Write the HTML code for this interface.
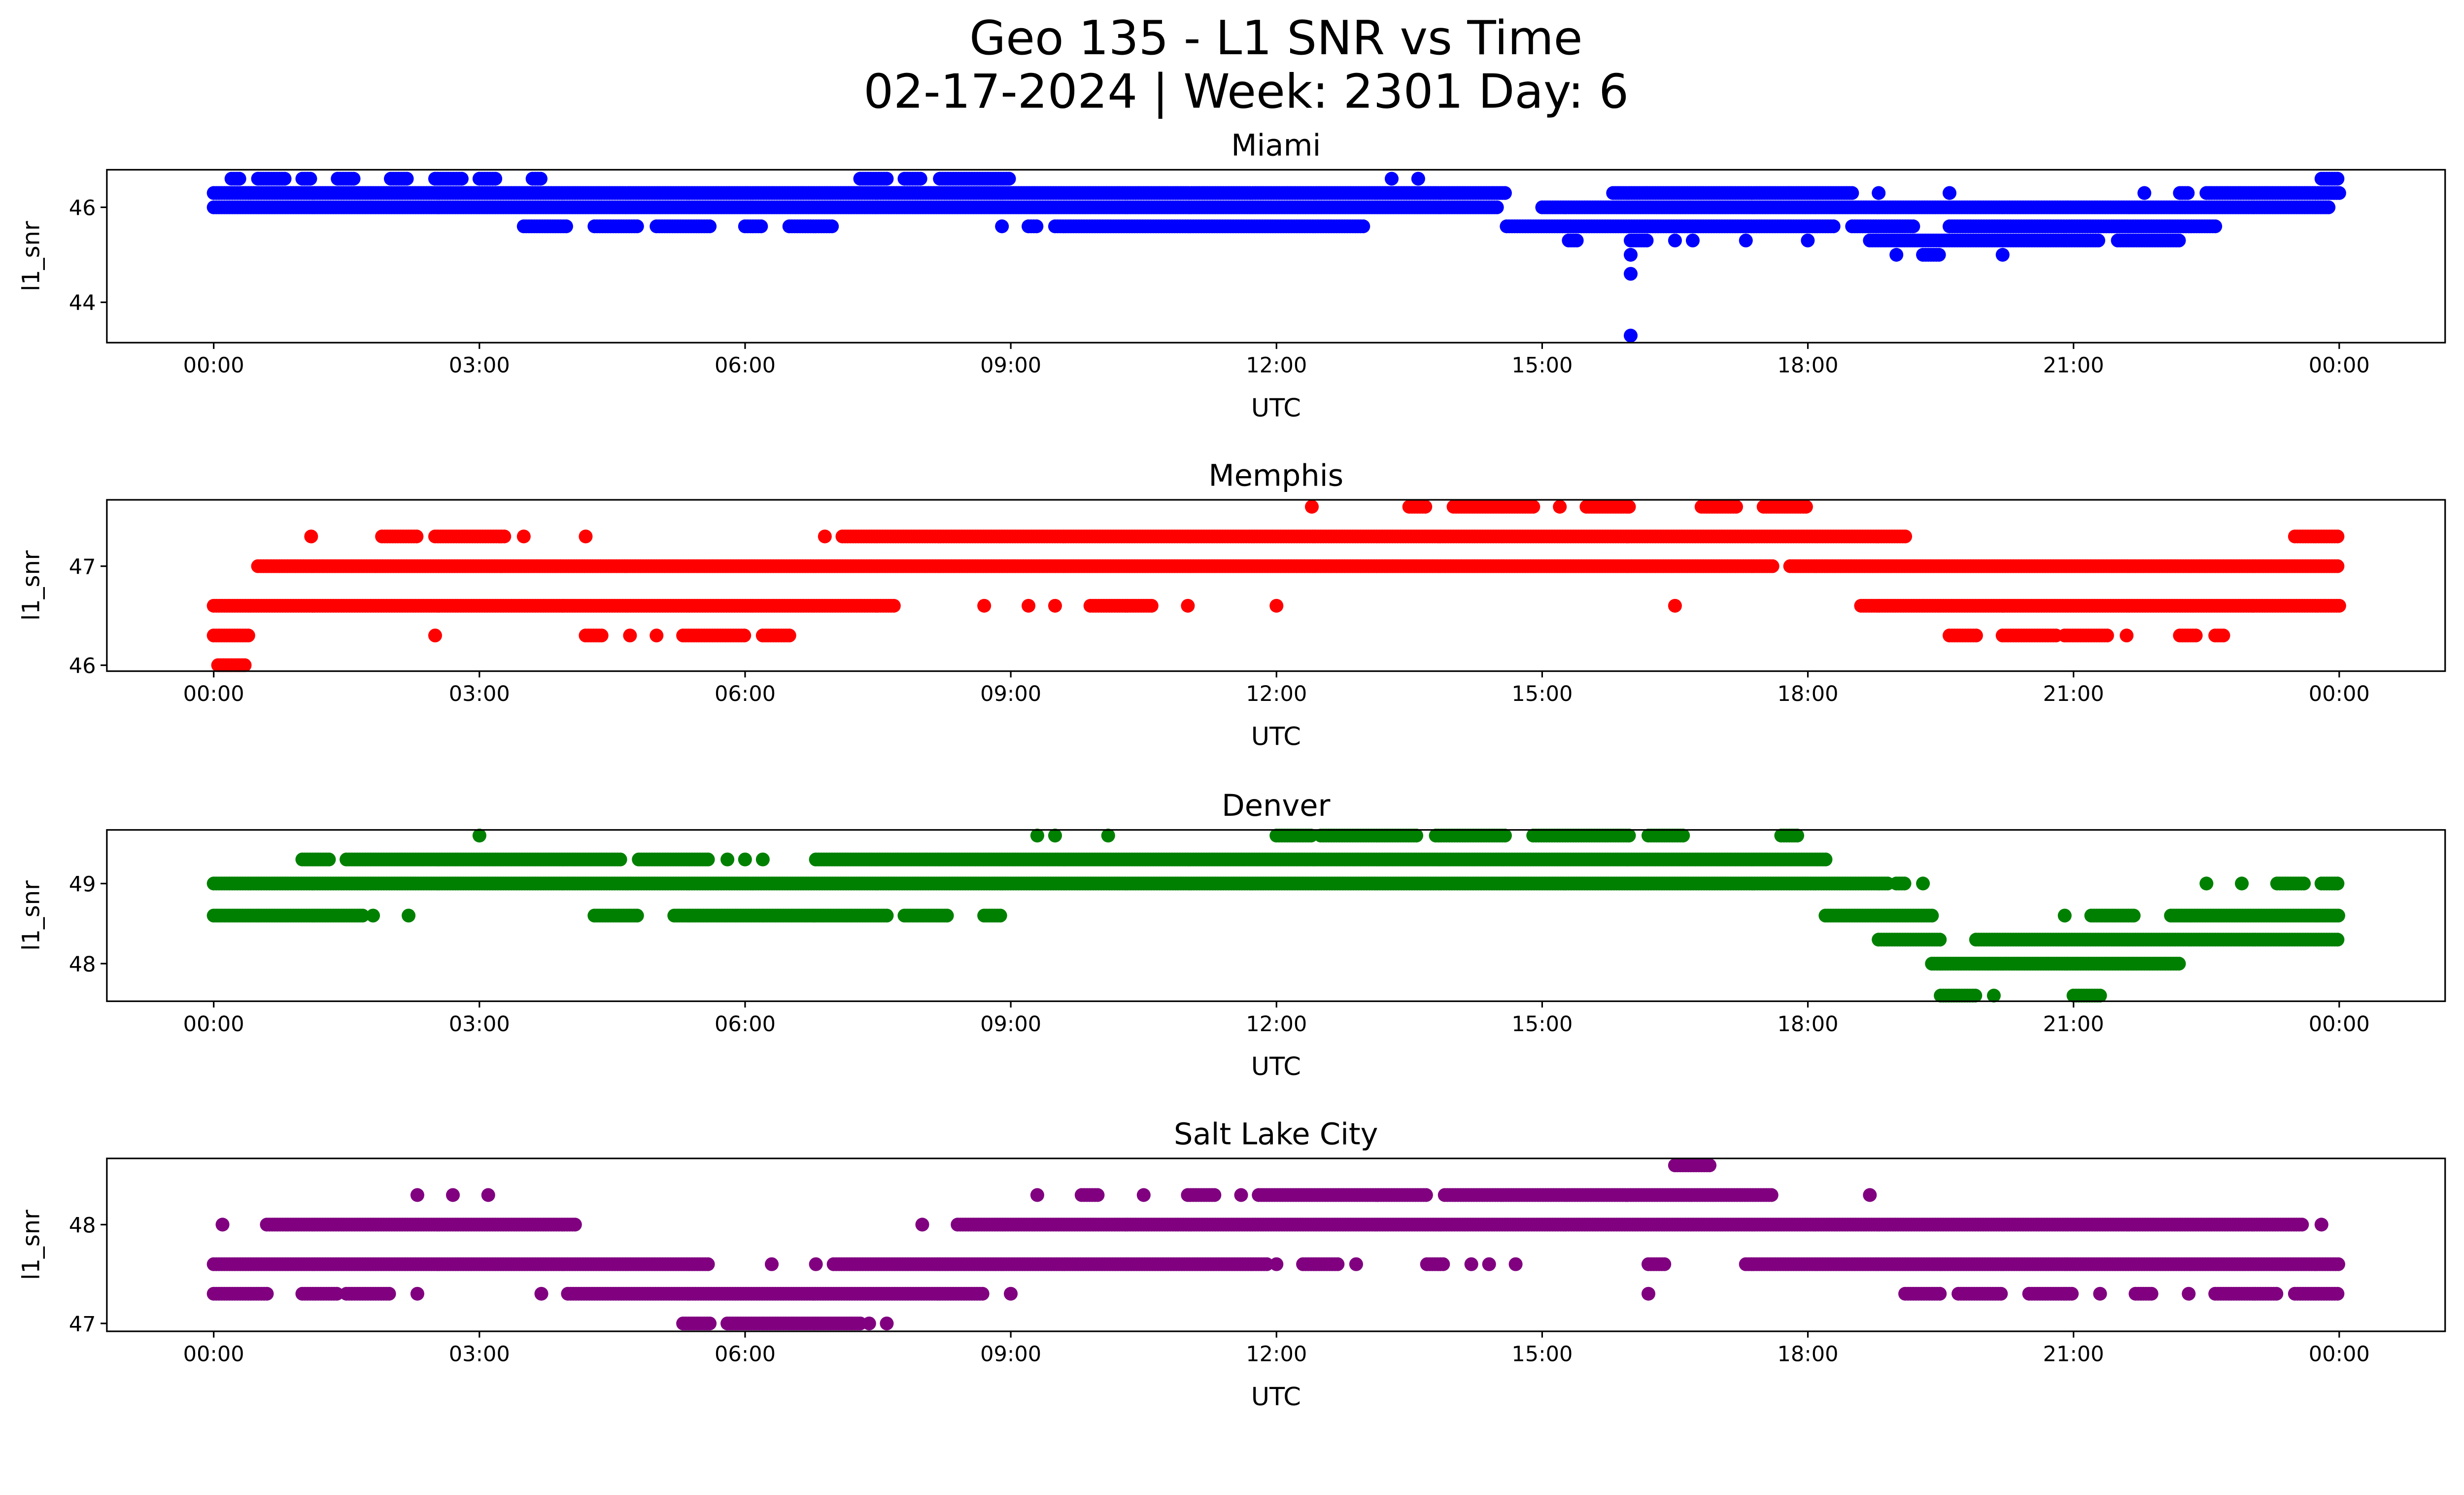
<!DOCTYPE html>
<html><head><meta charset="utf-8"><style>
html,body{margin:0;padding:0;background:#fff;overflow:hidden}
svg{display:block;width:100vw;height:calc(100vw * 3033 / 5226)}
text{font-family:"DejaVu Sans","Liberation Sans",sans-serif;fill:#000}
</style></head><body>
<svg id="chart" viewBox="0 0 1568 910" preserveAspectRatio="none" xmlns="http://www.w3.org/2000/svg">
<g id="root">
<text x="812" y="34.5" font-size="30" text-anchor="middle">Geo 135 - L1 SNR vs Time</text>
<text x="793" y="68.5" font-size="30" text-anchor="middle">02-17-2024 | Week: 2301 Day: 6</text>
</g>
</svg>
<script>
// Data: runs of observations per SNR level, [startHour, endHour]
const panelNames = ["Miami","Memphis","Denver","Salt Lake City"];
const panelColors = ["#0000ff","#ff0000","#008000","#800080"];
const xTickLabels = ["00:00","03:00","06:00","09:00","12:00","15:00","18:00","21:00","00:00"];
const xTickHours = [0,3,6,9,12,15,18,21,24];
const miamiTicks = [44,46];
const memphisTicks = [46,47];
const denverTicks = [48,49];
const slcTicks = [47,48];
const miamiRuns = {
  "46.6":[[0.2,0.3],[0.5,0.8],[1.0,1.1],[1.4,1.6],[2.0,2.2],[2.5,2.8],[3.0,3.2],[3.6,3.7],[7.3,7.6],[7.8,8.0],[8.2,9.0],[13.3,13.3],[13.6,13.6],[23.8,24]],
  "46.3":[[0,14.6],[15.8,18.5],[18.8,18.8],[19.6,19.6],[21.8,21.8],[22.2,22.3],[22.5,24]],
  "46.0":[[0,14.5],[15.0,23.9]],
  "45.6":[[3.5,4.0],[4.3,4.8],[5.0,5.6],[6.0,6.2],[6.5,7.0],[8.9,8.9],[9.2,9.3],[9.5,13.0],[14.6,18.3],[18.5,19.2],[19.6,22.6]],
  "45.3":[[15.3,15.4],[16.0,16.2],[16.5,16.5],[16.7,16.7],[17.3,17.3],[18.0,18.0],[18.7,21.3],[21.5,22.2]],
  "45.0":[[16.0,16.0],[19.0,19.0],[19.3,19.5],[20.2,20.2]],
  "44.6":[[16.0,16.0]],
  "43.3":[[16.0,16.0]]
};
const memphisRuns = {
  "47.6":[[12.4,12.4],[13.5,13.7],[14.0,14.9],[15.2,15.2],[15.5,16.0],[16.8,17.2],[17.5,18.0]],
  "47.3":[[1.1,1.1],[1.9,2.3],[2.5,3.3],[3.5,3.5],[4.2,4.2],[6.9,6.9],[7.1,19.1],[23.5,24]],
  "47.0":[[0.5,17.6],[17.8,24]],
  "46.6":[[0,7.7],[8.7,8.7],[9.2,9.2],[9.5,9.5],[9.9,10.6],[11.0,11.0],[12.0,12.0],[16.5,16.5],[18.6,24]],
  "46.3":[[0,0.4],[2.5,2.5],[4.2,4.4],[4.7,4.7],[5.0,5.0],[5.3,6.0],[6.2,6.5],[19.6,19.9],[20.2,20.8],[20.9,21.4],[21.6,21.6],[22.2,22.4],[22.6,22.7]],
  "46.0":[[0.05,0.35]]
};
const denverRuns = {
  "49.6":[[3.0,3.0],[9.3,9.3],[9.5,9.5],[10.1,10.1],[12.0,12.4],[12.5,13.6],[13.8,14.6],[14.9,16.0],[16.2,16.6],[17.7,17.9]],
  "49.3":[[1.0,1.3],[1.5,4.6],[4.8,5.6],[5.8,5.8],[6.0,6.0],[6.2,6.2],[6.8,18.2]],
  "49.0":[[0,18.9],[19.0,19.1],[19.3,19.3],[22.5,22.5],[22.9,22.9],[23.3,23.6],[23.8,24]],
  "48.6":[[0,1.7],[1.8,1.8],[2.2,2.2],[4.3,4.8],[5.2,7.6],[7.8,8.3],[8.7,8.9],[18.2,19.4],[20.9,20.9],[21.2,21.7],[22.1,24]],
  "48.3":[[18.8,19.5],[19.9,24]],
  "48.0":[[19.4,22.2]],
  "47.6":[[19.5,19.9],[20.1,20.1],[21.0,21.3]]
};
const slcRuns = {
  "48.6":[[16.5,16.9]],
  "48.3":[[2.3,2.3],[2.7,2.7],[3.1,3.1],[9.3,9.3],[9.8,10.0],[10.5,10.5],[11.0,11.3],[11.6,11.6],[11.8,13.7],[13.9,17.6],[18.7,18.7]],
  "48.0":[[0.1,0.1],[0.6,4.1],[8.0,8.0],[8.4,23.6],[23.8,23.8]],
  "47.6":[[0,5.6],[6.3,6.3],[6.8,6.8],[7.0,11.9],[12.0,12.0],[12.3,12.7],[12.9,12.9],[13.7,13.9],[14.2,14.2],[14.4,14.4],[14.7,14.7],[16.2,16.4],[17.3,24]],
  "47.3":[[0,0.6],[1.0,1.4],[1.5,2.0],[2.3,2.3],[3.7,3.7],[4.0,8.7],[9.0,9.0],[16.2,16.2],[19.1,19.5],[19.7,20.2],[20.5,21.0],[21.3,21.3],[21.7,21.9],[22.3,22.3],[22.6,23.3],[23.5,24]],
  "47.0":[[5.3,5.6],[5.8,7.3],[7.4,7.4],[7.6,7.6]]
};
const panelRuns = [miamiRuns,memphisRuns,denverRuns,slcRuns];
const panelTicks = [miamiTicks,memphisTicks,denverTicks,slcTicks];
const panelYDomain = [[43.15,46.79],[45.94,47.67],[47.53,49.67],[46.92,48.67]];

const NS="http://www.w3.org/2000/svg";
const svg=document.getElementById('root');
const X0=68, X1=1556, T0=136, T1=1488.6;
const boxes=[[108,218],[318,427],[528,637],[737,847]];
const slugs=["miami","memphis","denver","salt-lake-city"];
function mk(tag,attrs,parent){const e=document.createElementNS(NS,tag);for(const k in attrs)e.setAttribute(k,attrs[k]);(parent||svg).appendChild(e);return e;}
function xScale(h){return T0+(T1-T0)*h/24;}
for(let p=0;p<4;p++){
  const [yt,yb]=boxes[p]; const [d0,d1]=panelYDomain[p];
  const yScale=v=>yb-(v-d0)/(d1-d0)*(yb-yt);
  const g=mk('g',{});
  
  
  const t=mk('text',{x:(X0+X1)/2,y:yt-9,'font-size':19,'text-anchor':'middle'},g);
  t.textContent=panelNames[p];
  
  
  const pts=mk('g',{fill:panelColors[p]},g);
  
  
  const runs=panelRuns[p];
  for(const lvl in runs){
    const v=parseFloat(lvl); const cy=yScale(v);
    for(const [a,b] of runs[lvl]){
      for(let h=a; h<=b+1e-9; h+=0.03){
        const c=mk('circle',{cx:xScale(h).toFixed(1),cy:cy.toFixed(1),r:4.4},pts);
        
        
      }
    }
  }
  const box=mk('rect',{x:X0,y:yt,width:X1-X0,height:yb-yt,fill:'none',stroke:'#000','stroke-width':1},g);
  
  
  for(let i=0;i<xTickHours.length;i++){
    const x=xScale(xTickHours[i]);
    mk('line',{x1:x,x2:x,y1:yb,y2:yb+4,stroke:'#000'},g);
    const tl=mk('text',{x:x,y:yb+19,'font-size':13.5,'text-anchor':'middle'},g);
    tl.textContent=xTickLabels[i];
    
    
  }
  for(const v of panelTicks[p]){
    const y=yScale(v);
    mk('line',{x1:X0-4,x2:X0,y1:y,y2:y,stroke:'#000'},g);
    const tl=mk('text',{x:X0-7,y:y+5,'font-size':13.5,'text-anchor':'end'},g);
    tl.textContent=v;
    
    
  }
  const xl=mk('text',{x:(X0+X1)/2,y:yb+47,'font-size':16,'text-anchor':'middle'},g);
  xl.textContent='UTC';
  
  
  const yc=(yt+yb)/2;
  const yl=mk('text',{x:25,y:yc,'font-size':15,'text-anchor':'middle',transform:`rotate(-90 25 ${yc})`},g);
  yl.textContent='l1_snr';
  
  
}
</script>
</body></html>
